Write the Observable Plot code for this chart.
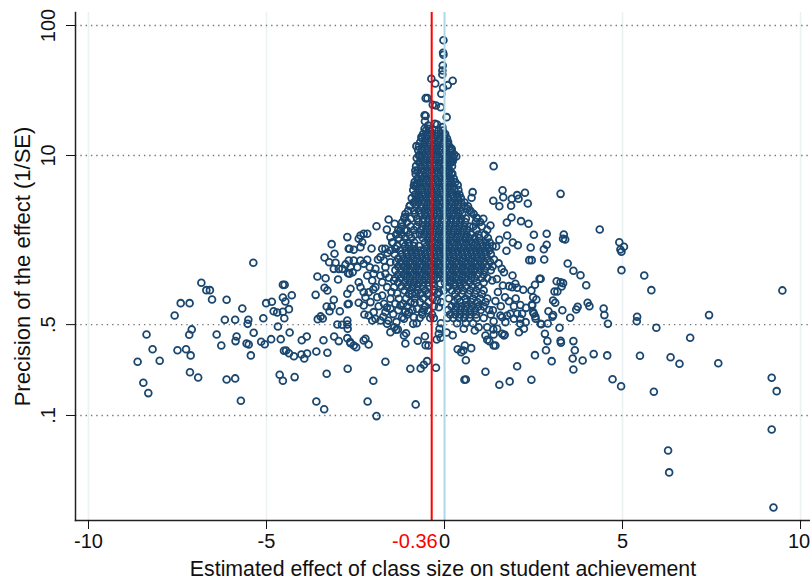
<!DOCTYPE html>
<html>
<head>
<meta charset="utf-8">
<style>html,body{margin:0;padding:0;background:#fff}svg{display:block}</style>
<script src="https://cdn.jsdelivr.net/npm/d3@7"></script>
<script src="https://cdn.jsdelivr.net/npm/@observablehq/plot@0.6"></script>
</head>
<body>
<div id="chart"></div>
<script>
// Values: [estimated effect, log10(precision)]
const leftTail = [[-5.37,.175],[-6.83,.021],[-6.69,-.036],[-6.59,-.036],[-6.53,-.108],[-7.41,-.136],[-7.16,-.136],[-6.12,-.11],[-5.68,-.177],[-7.58,-.231],[-6.17,-.264],[-5.88,-.264],[-5.51,-.264],[-5.53,-.295],[-5.09,-.252],[-5.01,-.136],[-4.85,-.125],[-4.54,.005],[-4.49,.005],[-4.54,-.092],[-4.47,-.123],[-4.29,-.075],[-4.37,-.182],[-4.8,-.198],[-4.7,-.208],[-4.54,-.202],[-4.5,-.252],[-4.68,-.315],[-4.35,-.362],[-7.1,-.338],[-7.17,-.379],[-8.37,-.377],[-6.4,-.377],[-5.84,-.392],[-5.87,-.428],[-5.36,-.364],[-6.27,-.462],[-5.56,-.446],[-5.5,-.454],[-5.15,-.433],[-5.05,-.452],[-4.87,-.413],[-4.6,-.413],[-8.2,-.49],[-7.5,-.498],[-7.26,-.49],[-7.13,-.538],[-8,-.579],[-8.62,-.587],[-5.44,-.538],[-4.51,-.502],[-4.45,-.5],[-4.37,-.521],[-4.23,-.544],[-4.02,-.531],[-3.94,-.562],[-3.86,-.523],[-3.6,-.508],[-3.29,-.518],[-4.01,-.421],[-3.87,-.392],[-3.4,-.421],[-3.1,-.392],[-2.97,-.428],[-7.15,-.667],[-6.92,-.708],[-8.46,-.748],[-8.32,-.828],[-6.12,-.723],[-5.88,-.715],[-5.72,-.887],[-4.63,-.687],[-4.54,-.733],[-4.21,-.705],[-3.31,-.679],[-3.6,-.892],[-3.38,-.952],[-2.72,-.641]];
const leftShoulder = [[-3.17,.318],[-2.69,.282],[-3.37,.215],[-3.09,.244],[-3.24,.179],[-3.06,.175],[-3.11,.128],[-2.97,.128],[-2.87,.128],[-2.78,.162],[-2.69,.192],[-2.71,.095],[-3.57,.069],[-3.34,.056],[-2.99,.046],[-3.37,-.018],[-3.29,-.038],[-3.62,-.072],[-2.73,-.064],[-3.11,-.11],[-2.72,-.144],[-3.31,-.162],[-3.17,-.162],[-3.23,-.198],[-2.94,-.198],[-3.56,-.259],[-3.48,-.238],[-3.42,-.254],[-3.01,-.3],[-2.88,-.302],[-2.73,-.269],[-2.73,-.3],[-2.72,-.333],[-2.73,-.405],[-2.65,-.436],[-1.91,.456],[-1.57,.508],[-2.73,.372],[-2.36,.385],[-2.27,.398],[-2.17,.398],[-2.41,.359],[-2.31,.333],[-2.36,.295],[-2.05,.285],[-2.67,.282],[-2.55,.275],[-1.75,.282],[-1.66,.282],[-1.52,.269],[-1.38,.282],[-1.52,.372],[-1.33,.398],[-1.4,.475],[-1.19,.487],[-1.12,.525],[-1.24,.423],[-1.05,.423],[-.97,.615],[-.81,.654],[-.72,.692],[-.86,.769],[-2.55,.192],[-2.36,.192],[-2.17,.198],[-2.64,.141],[-2.45,.141],[-2.27,.167],[-2.67,.09],[-2.58,.102],[-1.94,.128],[-1.8,.218],[-1.7,.192],[-1.66,.141],[-1.52,.179],[-2.17,.077],[-1.99,.09],[-2.03,.038],[-1.8,.077],[-1.75,.025],[-1.66,.09],[-1.61,-.013],[-1.94,-.013],[-2.41,.025],[-2.36,-.013],[-2.64,-.025],[-2.27,-.052],[-2.13,-.052],[-2.22,-.09],[-2.69,-.141],[-2.41,-.133],[-2.27,-.154],[-2.08,-.128],[-1.89,-.09],[-1.75,-.077],[-1.7,-.141],[-1.52,-.102],[-1.38,-.141],[-1.24,-.154],[-1.28,-.102],[-1.42,-.013],[-1.42,.038],[-1.99,-.205],[-2.03,-.269],[-1.94,-.256],[-2.13,-.231],[-1.8,-.269],[-2.25,-.223],[-1.66,-.205],[-1.52,-.179],[-1.14,-.256],[-.88,-.295],[-.86,-.244],[-.77,-.179],[-.63,-.205],[-.47,-.192],[-1.19,-.244],[-1,-.205],[-.91,-.064],[-.67,-.064],[-.44,-.059],[-.84,-.133],[-1.56,.06],[-1.49,-.05],[-1.33,-.06],[-1.62,-.17],[-1.44,-.22],[-1.3,-.19],[-1.35,-.28],[-1.16,-.14],[-1.1,-.2],[-1.85,-.16],[-1.72,-.24],[-1.58,-.27],[-2.0,-.03],[-2.1,.14],[-1.87,.2],[-1.6,.25],[-1.47,.33],[-1.62,.43]];
const lowerCentre = [[-2.16,-.892],[-1.91,-1.005],[-.81,-.915],[-1.66,-.587],[-2,-.733],[-.96,-.641],[-.67,-.638],[-.58,-.61],[-.49,-.582],[-.24,-.633],[1.15,-.664],[1.54,-.764],[1.83,-.738],[.56,-.725],[.6,-.723],[2.04,-.621],[2.44,-.725],[2.54,-.536],[.37,-.49],[.47,-.513],[.53,-.5],[.57,-.462],[.75,-.482],[.6,-.575],[-.55,-.39],[-.75,-.425],[-.53,-.459],[-.45,-.462],[-.22,-.415],[-.11,-.402],[-.16,-.372],[-.14,-.333],[.23,-.382],[.06,-.362],[-1.1,-.446],[-1.14,-.385],[-1.08,-.367],[-1.41,-.321],[-1.31,-.338],[-1.52,-.359],[-1.36,-.341],[-1.61,-.295],[-2.13,-.454],[-2.22,-.41],[-2.27,-.423],[-2.48,-.475],[-2.55,-.462],[-2.64,-.444],[1.38,-.275],[.54,-.333],[.85,-.346],[.96,-.321],[1.15,-.385],[1.2,-.418],[1.26,-.428],[1.38,-.377],[1.37,-.338],[1.38,-.462],[1.43,-.462],[1.62,-.372],[1.69,-.379],[2.09,-.359],[2.23,-.333],[2.13,-.295],[2.28,-.282],[2.7,-.295],[2.46,-.154],[2.51,-.218],[2.56,-.256],[1.85,-.218],[1.95,-.256],[2.04,-.218],[2.13,-.256],[2.18,-.218],[1.57,-.231],[1.71,-.282],[1.76,-.231],[1.62,-.244],[1.48,-.333],[1.67,-.385],[1.2,-.321],[-.16,-.052],[-.11,.013],[-.21,-.115],[-.16,-.167],[.08,-.013],[.17,.038],[1.5,-.05],[1.43,-.12],[1.58,-.16],[1.36,-.19],[1.7,-.09],[1.64,.0],[2.0,-.1],[2.13,-.15],[1.95,-.16],[1.47,.05],[1.52,.17],[1.39,.2]];
const rightTail = [[3.26,.705],[4.36,.431],[2.87,.398],[3.35,.392],[3.33,.359],[3.39,.354],[2.87,.313],[2.79,.279],[4.91,.333],[5.04,.298],[4.94,.277],[4.97,.259],[2.8,.2],[3.46,.169],[3.62,.113],[3.82,.079],[4.97,.118],[5.61,.077],[5.81,-.036],[9.49,-.038],[3.98,.002],[2.7,.052],[3.15,.033],[3.26,.025],[3.33,.018],[3.29,-.008],[3.09,-.046],[3.17,-.046],[3.05,-.115],[3.11,-.133],[4.02,-.133],[4.07,-.159],[3.74,-.164],[3.7,-.185],[2.92,-.198],[3.31,-.19],[3.05,-.228],[3.03,-.24],[3.53,-.248],[4.47,-.177],[4.49,-.228],[4.59,-.295],[5.41,-.241],[5.4,-.275],[7.43,-.228],[5.95,-.325],[6.9,-.402],[2.9,-.292],[2.72,-.298],[3.23,-.325],[2.82,-.372],[2.89,-.428],[2.85,-.498],[3.26,-.425],[3.27,-.441],[3.62,-.428],[3.66,-.498],[3.6,-.562],[3.88,-.577],[3.62,-.646],[3.01,-.582],[4.19,-.528],[4.57,-.538],[5.49,-.541],[6.35,-.552],[6.6,-.602],[7.69,-.598],[4.72,-.721],[4.96,-.775],[5.88,-.818],[9.19,-.71],[9.33,-.813],[9.19,-1.108],[6.28,-1.269],[6.31,-1.438],[9.24,-1.708]];
const rightShoulder = [[1.38,.918],[1.63,.733],[1.65,.679],[1.37,.652],[1.54,.61],[1.89,.667],[2.04,.695],[2.08,.667],[2.26,.713],[2.34,.631],[1.87,.613],[.79,.718],[.76,.675],[1.88,.523],[1.75,.485],[2.15,.495],[2.36,.475],[2.51,.39],[1.76,.385],[1.92,.331],[2.06,.31],[1.54,.352],[1.45,.3],[1.26,.269],[1.74,.267],[2.42,.292],[2.38,.195],[2.45,.195],[2.67,.052],[2.54,.005],[2.44,-.038],[2.58,-.108],[2.49,-.09],[2.29,-.172],[2.46,-.146],[2.49,-.205],[2.55,-.238],[1.91,.077],[1.61,.128],[1.67,.102],[1.34,.038],[1.99,.013],[1.81,-.005],[1.9,-.013],[2.04,-.018],[2.21,-.033],[1.81,-.121],[.64,.59],[.75,.564],[.9,.52],[1.09,.513],[1.29,.462],[1.2,.428]];
const spikeTop = [[-.03,1.887],[-.04,1.79],[-.03,1.775],[-.05,1.692],[-.06,1.654],[-.06,1.623],[-.37,1.59],[-.26,1.554],[.23,1.575],[.09,1.541],[-.04,1.521],[-.09,1.475],[-.53,1.441],[-.48,1.441],[-.33,1.39],[-.24,1.385],[-.11,1.372],[-.56,1.31],[-.53,1.305],[.06,1.295],[-.55,1.264],[-.46,1.231],[-.27,1.244],[-.21,1.238],[-.56,1.205],[-.44,1.205],[-.06,1.218],[-.65,1.141],[0,1.154],[-.79,1.072],[.2,1.052],[.09,1.09],[.33,.992],[-.72,1],[.23,.956],[.17,.948],[-.82,.885],[.12,.885],[.22,.859],[.37,.772],[-.84,.769],[-.77,.787]];
// Dense core, row by row: [log10(precision), [effects]]
const coreRows = [
[1.192,[-.52,-.41,-.28,-.17,-.05]],
[1.165,[-.6,-.46,-.36,-.22,-.1,.02]],
[1.131,[-.63,-.52,-.37,-.27,-.14,0,.07]],
[1.104,[-.68,-.55,-.43,-.29,-.18,-.04,.1]],
[1.069,[-.72,-.57,-.47,-.31,-.2,-.09,.06,.14]],
[1.041,[-.74,-.63,-.49,-.35,-.24,-.11,.03,.15,.2]],
[1.008,[-.7,-.56,-.45,-.3,-.19,-.05,.07,.21,.27]],
[.98,[-.78,-.66,-.52,-.4,-.25,-.14,.01,.12,.25]],
[.946,[-.71,-.58,-.43,-.32,-.17,-.06,.09,.19]],
[.918,[-.8,-.66,-.55,-.41,-.27,-.16,-.02,.1,.21]],
[.885,[-.75,-.6,-.48,-.36,-.22,-.08,.04,.15]],
[.857,[-.81,-.69,-.54,-.43,-.28,-.17,-.03,.11,.2]],
[.823,[-.76,-.62,-.51,-.37,-.25,-.1,.02,.16,.26]],
[.795,[-.84,-.7,-.59,-.44,-.33,-.18,-.07,.08,.19,.3]],
[.762,[-.79,-.66,-.52,-.41,-.26,-.15,0,.12,.25]],
[.734,[-.88,-.74,-.63,-.48,-.37,-.22,-.1,.04,.16,.28,.39]],
[.7,[-.83,-.72,-.57,-.46,-.31,-.2,-.05,.07,.2,.34,.42]],
[.672,[-.92,-.78,-.67,-.52,-.41,-.26,-.15,0,.11,.26,.37,.46]],
[.638,[-.87,-.73,-.58,-.47,-.32,-.21,-.06,.05,.2,.31,.47,.56]],
[.61,[-.98,-.8,-.65,-.51,-.4,-.25,-.14,.01,.12,.27,.38,.55,.66]],
[.577,[-1.02,-.85,-.72,-.57,-.46,-.31,-.2,-.05,.08,.2,.34,.45,.72]],
[.549,[-1.1,-.83,-.66,-.54,-.39,-.28,-.13,-.02,.13,.24,.39,.5,.82]],
[.515,[-1.13,-.94,-.77,-.59,-.44,-.33,-.18,-.07,.08,.19,.34,.47,.6,.92]],
[.488,[-1.05,-.73,-.6,-.46,-.35,-.2,-.09,.06,.17,.32,.43,.58,.88,1]],
[.454,[-1.2,-.95,-.78,-.62,-.48,-.37,-.22,-.11,.04,.15,.3,.41,.56,.7,.81,1.05]],
[.426,[-1.3,-1.12,-.86,-.66,-.52,-.41,-.26,-.15,0,.11,.26,.37,.52,.63,.9]],
[.392,[-1.36,-1.2,-.99,-.82,-.69,-.57,-.42,-.31,-.16,-.05,.1,.21,.36,.47,.62,.74,.95,1.13]],
[.365,[-1.28,-1.1,-.93,-.61,-.46,-.35,-.2,-.09,.06,.17,.32,.43,.58,.69,.84,.97,1.22]],
[.331,[-1.45,-1.16,-1.02,-.85,-.55,-.43,-.28,-.17,-.02,.09,.24,.35,.5,.61,.76,.87,1.02,1.15,1.27]],
[.303,[-1.33,-1.11,-1,-.86,-.72,-.5,-.38,-.23,-.12,.03,.14,.29,.4,.55,.66,.81,.92,1.07,1.19,1.35]],
[.269,[-1.25,-1.09,-.94,-.83,-.68,-.57,-.42,-.31,-.16,-.05,.1,.21,.36,.47,.62,.73,.88,.99,1.13]],
[.241,[-1.4,-1.2,-1.06,-.91,-.8,-.65,-.54,-.39,-.28,-.13,-.02,.13,.24,.39,.5,.65,.76,.91,1.02,1.17,1.3]],
[.208,[-1.3,-1.14,-1.03,-.88,-.77,-.62,-.51,-.36,-.25,-.1,.01,.16,.27,.42,.53,.68,.79,.94,1.05,1.2]],
[.18,[-1.36,-1.23,-1.08,-.97,-.82,-.71,-.56,-.45,-.3,-.19,-.04,.07,.22,.33,.48,.59,.74,.85,1,1.12,1.28]],
[.146,[-1.3,-1.15,-1.04,-.89,-.78,-.63,-.52,-.37,-.26,-.11,0,.15,.26,.41,.52,.67,.78,.93,1.04,1.2,1.35]],
[.118,[-1.38,-1.23,-1.08,-.97,-.82,-.71,-.56,-.45,-.3,-.19,-.04,.07,.22,.33,.48,.59,.74,.85,1,1.12,1.3]],
[.085,[-1.3,-1.15,-1.04,-.89,-.78,-.63,-.52,-.37,-.26,-.11,0,.15,.26,.41,.52,.67,.78,.93,1.1]],
[.057,[-1.38,-1.23,-1.08,-.97,-.82,-.71,-.56,-.45,-.3,-.19,-.04,.07,.22,.33,.48,.59,.74,.85,1.05,1.2]],
[.023,[-1.3,-1.12,-.97,-.86,-.71,-.6,-.45,-.33,.01,.15,.27,.42,.54,.7,.9,1.1]],
[-.005,[-1.2,-1.05,-.9,-.76,-.61,-.44,-.3,.12,.31,.44,.6,.78,.95]],
[-.038,[-1.12,-.96,-.75,-.54,-.28,-.02,.21,.37,.52,.72,.89,1.1]],
[-.066,[-1,-.8,-.49,-.2,.3,.5,.67,.85,1.05]],
[-.1,[-1.08,-.84,-.6,-.33,.12,.36,.59,.8,1,1.2]],
[-.128,[-.95,-.69,-.45,-.1,.28,.44,.61,.75,.92,1.15]],
[-.161,[-1.05,-.54,-.3,.2,.33,.48,.62,.78,.95,1.1]],
[-.189,[-.9,-.58,.1,.3,.44,.57,.72,.86,1.02,1.25]],
[-.223,[-1.05,-.62,-.35,.16,.3,.44,.59,.72,.88,1.3]],
[-.25,[-.7,-.4,-.3,.08,.25,.41,.55,.7,.9,1.1]],
[-.29,[-.78,-.1,.35,.6,.8]]
];
const xTicks = [-10, -5, 0, 5, 10];
const xGrid = [-10, -5, 5, 10];
const yTicks = [0.1, 0.5, 10, 100];
const meanEffect = -0.36;
const zeroEffect = 0;
const xDomain = [-10.365, 10.28];
const yDomain = [0.01556, 125.9];
const xTitle = "Estimated effect of class size on student achievement";
const yTitle = "Precision of the effect (1/SE)";

const table = [...leftTail, ...leftShoulder, ...lowerCentre, ...rightTail, ...rightShoulder, ...spikeTop,
  ...coreRows.flatMap(([lp, xs]) => xs.map(x => [x, lp]))]
  .map(([effect, lp]) => ({effect, precision: 10 ** lp}));

const font = "'Liberation Sans', Arial, sans-serif";
const chart = Plot.plot({
  width: 810, height: 583,
  marginLeft: 75, marginRight: 0, marginTop: 12, marginBottom: 63,
  style: {fontFamily: font, background: "#fff"},
  x: {domain: xDomain, label: null},
  y: {type: "log", domain: yDomain, label: null},
  marks: [
    Plot.ruleX(xGrid, {stroke: "#eaf2f3", strokeWidth: 1.6}),
    Plot.ruleY(yTicks, {stroke: "#777", strokeWidth: 1.4, strokeDasharray: "1.4 3.9"}),
    Plot.dot(table, {x: "effect", y: "precision", r: 3.4, stroke: "#1a476f", strokeWidth: 1.8, fill: "none"}),
    Plot.ruleX([meanEffect], {stroke: "#ff0000", strokeWidth: 2}),
    Plot.ruleX([zeroEffect], {stroke: "#add8e6", strokeWidth: 2}),
    Plot.frame({anchor: "left", stroke: "#222", strokeWidth: 1.5}),
    Plot.frame({anchor: "bottom", stroke: "#222", strokeWidth: 1.5}),
    Plot.axisX({ticks: xTicks, tickSize: 9, tickPadding: 4, fontSize: 20, color: "#111", label: null,
      text: d => d === 10 ? "" : String(d)}),
    Plot.axisX({ticks: [10], tickSize: 0, tickPadding: 13, fontSize: 20, color: "#111", label: null, dx: -1.5, text: d => String(d)}),
    Plot.text([meanEffect], {x: d => d, frameAnchor: "bottom", dy: 21, dx: 6, textAnchor: "end", lineAnchor: "middle", text: d => String(d), fontSize: 20, fill: "#ff0000"}),
    Plot.text([xTitle], {frameAnchor: "bottom", dy: 49, lineAnchor: "middle", fontSize: 21.3, fill: "#111"}),
    Plot.axisY({ticks: yTicks, tickSize: 9, tickPadding: 12, fontSize: 20, color: "#111", tickRotate: -90, label: null,
      text: d => d < 1 ? String(d).replace("0.", ".") : String(d)}),
    Plot.text([yTitle], {frameAnchor: "left", dx: -53, rotate: -90, textAnchor: "middle", lineAnchor: "middle", fontSize: 22, fill: "#111"})
  ]
});
document.getElementById("chart").append(chart);
</script>
</body>
</html>
